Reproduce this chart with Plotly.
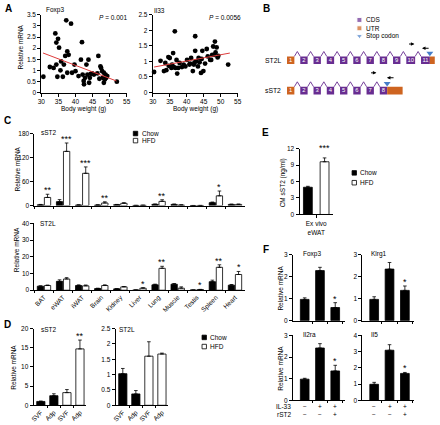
import plotly.graph_objects as go

W, H = 440, 425
FONT = "Liberation Sans, Arial, Helvetica, sans-serif"
PURPLE = "rgb(104,45,145)"
ORANGE = "rgb(206,100,32)"
BLUE = "rgb(70,125,200)"
RED = "rgb(222,60,60)"

# ---------------- data ----------------
# A: scatter (body weight vs relative mRNA)
foxp3_bw = [30.6, 32.5, 33.6, 34.1, 34.4, 34.7, 34.9, 35.2, 34.4, 35.6, 35.8, 36.3, 36.6, 37.0, 37.3, 37.6, 37.6,
            38.0, 38.7, 39.0, 39.7, 40.0, 40.9, 41.6, 41.9, 42.1, 42.4, 42.5, 42.8, 43.2, 43.5, 43.8, 44.0, 44.2,
            44.5, 44.9, 45.4, 46.4, 46.7, 47.0, 47.3, 47.5, 47.8, 48.0, 48.3, 48.3, 48.6, 48.8, 49.0, 49.3, 52.1]
foxp3_mrna = [0.71, 1.15, 1.11, 2.66, 2.25, 0.71, 2.42, 2.02, 1.26, 1.0, 1.40, 0.71, 1.26, 1.65, 3.25, 1.85, 0.89,
              1.70, 3.10, 0.89, 1.26, 0.96, 0.74, 1.48, 2.27, 0.81, 0.52, 0.37, 0.66, 1.26, 0.81, 1.48, 0.44, 0.66,
              0.84, 0.86, 0.81, 0.86, 1.65, 0.62, 1.18, 1.11, 0.96, 0.66, 0.44, 0.89, 0.59, 0.81, 0.66, 0.74, 0.49]
foxp3_fit_bw = [30.5, 52.0]
foxp3_fit_mrna = [1.78, 0.52]
foxp3_p = "0.001"

il33_bw = [30.4, 32.3, 33.3, 33.7, 34.0, 34.6, 34.7, 35.0, 35.5, 35.7, 36.0, 36.2, 36.5, 36.7, 37.0, 37.2, 37.5,
           37.9, 38.6, 39.1, 39.6, 40.1, 40.8, 41.0, 41.3, 41.8, 42.1, 42.3, 42.5, 42.5, 42.8, 43.3, 43.5, 43.8,
           44.2, 44.4, 44.6, 44.9, 45.4, 45.9, 46.2, 46.9, 47.2, 47.5, 47.8, 48.1, 48.3, 48.5, 48.8, 49.1, 49.3, 52.2]
il33_mrna = [0.66, 1.02, 0.69, 0.95, 0.72, 1.14, 0.86, 1.11, 0.79, 0.90, 1.27, 0.82, 1.97, 0.79, 1.05, 0.61, 0.79,
             0.95, 0.82, 0.90, 0.84, 1.05, 0.90, 0.93, 1.11, 0.69, 0.90, 0.97, 1.81, 1.34, 1.0, 0.84, 1.11, 0.97,
             0.63, 1.08, 1.34, 0.69, 0.93, 1.40, 1.16, 1.05, 1.05, 1.21, 1.48, 1.21, 1.64, 1.29, 1.45, 1.13, 1.18, 0.90]
il33_fit_bw = [30.4, 52.7]
il33_fit_mrna = [0.82, 1.27]
il33_p = "0.0056"

# B: gene schematic
st2l_exons = list(range(1, 12))
sst2_exons = list(range(1, 9))
st2l_primer_exons = (10, 11)
sst2_primer_exons = (7, 8)

# C: tissue panel
tissues = ["BAT", "eWAT", "iWAT", "Brain", "Kidney", "Liver", "Lung", "Muscle", "Testis", "Spleen", "Heart"]
sst2_chow = [2.0, 10.0, 1.5, 1.5, 2.5, 0.5, 3.2, 3.0, 0.3, 7.5, 3.0]
sst2_chow_err = [1.0, 5.0, 0.5, 0.5, 0.5, 0.2, 0.8, 1.0, 0.1, 1.5, 0.8]
sst2_hfd = [20.5, 136, 81, 6.6, 5.8, 0.8, 10.7, 1.5, 0.4, 24.6, 3.0]
sst2_hfd_err = [8.0, 21, 16, 3.0, 1.5, 0.3, 4.0, 0.5, 0.1, 12.0, 1.0]
sst2_stars = ["**", "***", "***", "**", "", "", "**", "", "", "*", ""]

st2l_chow = [2.4, 5.3, 2.8, 1.0, 0.8, 0.1, 3.2, 3.6, 0.1, 5.1, 3.0]
st2l_chow_err = [0.2, 0.9, 0.4, 0.2, 0.1, 0.05, 0.4, 0.4, 0.05, 0.9, 0.4]
st2l_hfd = [2.8, 6.7, 2.6, 2.8, 2.0, 1.2, 13.1, 1.2, 0.4, 13.7, 9.4]
st2l_hfd_err = [0.3, 0.8, 0.5, 0.4, 0.2, 0.3, 1.2, 0.8, 0.1, 1.5, 1.8]
st2l_stars = ["", "", "", "", "", "*", "**", "", "*", "**", "*"]

# D: SVF vs adipocytes
d_labels = ["SVF", "Adp", "SVF", "Adp"]
d_diet = ["Chow", "Chow", "HFD", "HFD"]
d_sst2 = [1.0, 2.5, 3.3, 14.7]
d_sst2_err = [0.1, 0.5, 0.8, 2.3]
d_sst2_stars = ["", "", "", "**"]
d_st2l = [1.03, 0.37, 1.6, 1.67]
d_st2l_err = [0.17, 0.11, 0.47, 0.03]

# E: ex vivo eWAT conditioned medium
e_groups = ["Chow", "HFD"]
e_sst2 = [4.96, 9.6]
e_sst2_err = [0.17, 0.7]
e_stars = ["", "***"]

# F: treatment panel
f_il33 = ["\u2212", "+", "+"]
f_rst2 = ["\u2212", "\u2212", "+"]
f_genes = ["Foxp3", "Klrg1", "Il2ra", "Il5"]
f_vals = {"Foxp3": [0.97, 2.28, 0.6], "Klrg1": [0.97, 2.35, 1.38],
          "Il2ra": [0.98, 2.42, 1.36], "Il5": [0.99, 3.09, 1.66]}
f_errs = {"Foxp3": [0.07, 0.15, 0.22], "Klrg1": [0.12, 0.3, 0.2],
          "Il2ra": [0.04, 0.2, 0.26], "Il5": [0.12, 0.34, 0.06]}
f_stars = ["", "", "*"]


# ---------------- helpers ----------------
def fx(px):
    return px / W


def fy(py):
    return 1 - py / H


def dom_x(a, b):
    return [fx(a), fx(b)]


def dom_y(top, bottom):
    return [fy(bottom), fy(top)]


def axis(**kw):
    d = dict(showline=True, linecolor="black", linewidth=1, ticks="outside", ticklen=3, tickwidth=1,
             tickcolor="black", showgrid=False, zeroline=False, fixedrange=True,
             tickfont=dict(size=6.5, color="black", family=FONT))
    d.update(kw)
    return d


def err(arr):
    return dict(type="data", array=arr, arrayminus=[0] * len(arr), symmetric=False,
                color="black", thickness=0.8, width=1.8)


traces = []
shapes = []
ann = []
layout = dict(width=W, height=H, margin=dict(l=0, r=0, t=0, b=0), paper_bgcolor="white",
              plot_bgcolor="rgba(0,0,0,0)", showlegend=False, barmode="group",
              font=dict(family=FONT, size=6.5, color="black"))


def text(px, py, s, size=6.5, xanchor="left", yanchor="middle", angle=0, bold=False):
    ann.append(dict(x=fx(px), y=fy(py), xref="paper", yref="paper", text=("<b>%s</b>" % s if bold else s),
                    showarrow=False, xanchor=xanchor, yanchor=yanchor, textangle=angle,
                    font=dict(size=size, color="black", family=FONT), borderpad=0))


def star(xr, yr, x, y, s, xshift=0, yshift=-3):
    if s:
        ann.append(dict(x=x, y=y, xref=xr, yref=yr, text=s, showarrow=False, xanchor="center",
                        yanchor="bottom", xshift=xshift, yshift=yshift,
                        font=dict(size=9, color="black", family=FONT)))


def legend_box(px, py, label, filled):
    shapes.append(dict(type="rect", xref="paper", yref="paper", x0=fx(px), x1=fx(px + 4.5),
                       y0=fy(py + 2.3), y1=fy(py - 2.3), fillcolor="black" if filled else "white",
                       line=dict(color="black", width=0.8)))
    text(px + 7.5, py, label, size=6.5)


# ---------------- A ----------------
layout["xaxis"] = axis(domain=dom_x(38, 125), range=[30, 55], dtick=5, anchor="y")
layout["yaxis"] = axis(domain=dom_y(11, 90), range=[0, 3.5], dtick=0.5, anchor="x")
layout["xaxis2"] = axis(domain=dom_x(151.5, 238), range=[30, 55], dtick=5, anchor="y2")
layout["yaxis2"] = axis(domain=dom_y(11, 90), range=[0, 2.5], dtick=0.5, anchor="x2")

traces.append(go.Scatter(x=foxp3_bw, y=foxp3_mrna, mode="markers", xaxis="x", yaxis="y",
                         marker=dict(color="black", size=4.8), cliponaxis=False))
traces.append(go.Scatter(x=foxp3_fit_bw, y=foxp3_fit_mrna, mode="lines", xaxis="x", yaxis="y",
                         line=dict(color=RED, width=1)))
traces.append(go.Scatter(x=il33_bw, y=il33_mrna, mode="markers", xaxis="x2", yaxis="y2",
                         marker=dict(color="black", size=4.8), cliponaxis=False))
traces.append(go.Scatter(x=il33_fit_bw, y=il33_fit_mrna, mode="lines", xaxis="x2", yaxis="y2",
                         line=dict(color=RED, width=1), cliponaxis=False))

text(42, 6.5, "Foxp3")
text(152, 6.5, "Il33")
text(126, 14, "<i>P</i> = " + foxp3_p, xanchor="right")
text(242, 14, "<i>P</i> = " + il33_p, xanchor="right")
text(81, 107, "Body weight (g)", xanchor="center")
text(195.5, 107, "Body weight (g)", xanchor="center")
text(16.5, 44, "Relative mRNA", xanchor="center", angle=-90)

# ---------------- B (schematic) ----------------
layout["xaxis3"] = dict(domain=dom_x(265, 440), range=[265, 440], visible=False, fixedrange=True, anchor="y3")
layout["yaxis3"] = dict(domain=dom_y(0, 110), range=[110, 0], visible=False, fixedrange=True, anchor="x3")

GAP = 6.0
HALF_H = 3.9
PEAK = 8.9


def exon_w(n):
    return 7.5 if n < 10 else 9.0


def exon_centers(exons, start=292.0):
    cs = [start]
    for a, b in zip(exons[:-1], exons[1:]):
        cs.append(cs[-1] + exon_w(a) / 2 + GAP + exon_w(b) / 2)
    return cs


rows = [("ST2L", st2l_exons, 57.2, 5.0, st2l_primer_exons, (-3.25, 3.75, 16.5), (4.75, -3.5, 12.2)),
        ("sST2", sst2_exons, 88.0, 15.75, sst2_primer_exons, (-0.7, 6.3, 18.0), (11.8, 3.5, 13.0))]
for name, exons, ry, tail, primers, fwd, rev in rows:
    cs = exon_centers(exons)
    cx, cy = [], []
    for i, (n, c) in enumerate(zip(exons, cs)):
        w = exon_w(n)
        shapes.append(dict(type="rect", xref="x3", yref="y3", x0=c - w / 2, x1=c + w / 2, layer="below",
                           y0=ry - HALF_H, y1=ry + HALF_H, fillcolor=ORANGE if n == 1 else PURPLE,
                           line=dict(width=0)))
        if i < len(exons) - 1:
            r = c + w / 2
            l = cs[i + 1] - exon_w(exons[i + 1]) / 2
            cx += [r, (r + l) / 2, l, None]
            cy += [ry - HALF_H, ry - PEAK, ry - HALF_H, None]
    last_c, last_w = cs[-1], exon_w(exons[-1])
    shapes.append(dict(type="rect", xref="x3", yref="y3", x0=last_c + last_w / 2, x1=last_c + last_w / 2 + tail,
                       y0=ry - HALF_H, y1=ry + HALF_H, fillcolor=ORANGE, line=dict(width=0), layer="below"))
    traces.append(go.Scatter(x=cx, y=cy, mode="lines", xaxis="x3", yaxis="y3",
                             line=dict(color=PURPLE, width=0.9), hoverinfo="skip"))
    traces.append(go.Scatter(x=cs, y=[ry] * len(cs), mode="text", text=[str(n) for n in exons],
                             xaxis="x3", yaxis="y3", textfont=dict(color="white", size=5.8, family=FONT)))
    traces.append(go.Scatter(x=[last_c + last_w / 2], y=[ry - 7.2], mode="markers", xaxis="x3", yaxis="y3",
                             marker=dict(symbol="triangle-down", color=BLUE, size=6)))
    fc = cs[exons.index(primers[0])]
    rc = cs[exons.index(primers[1])]
    for c, (t, h, dy) in ((fc, fwd), (rc, rev)):
        ann.append(dict(x=c + h, y=ry - dy, ax=c + t, ay=ry - dy, xref="x3", yref="y3", axref="x3",
                        ayref="y3", text="", showarrow=True, arrowhead=2, arrowsize=0.7, arrowwidth=1,
                        arrowcolor="black", standoff=0, startstandoff=0))
    ann.append(dict(x=284.5, y=ry, xref="x3", yref="y3", text=name, showarrow=False, xanchor="right",
                    yanchor="middle", font=dict(size=6.8, color="black", family=FONT)))

# legend for B
traces.append(go.Scatter(x=[362, 362, 362], y=[16.2, 24.7, 32.5], mode="markers", xaxis="x3", yaxis="y3",
                         marker=dict(symbol=["square", "square", "triangle-down"], size=[5, 5, 5.5],
                                     color=[PURPLE, ORANGE, BLUE])))
for yy, s in zip([16.2, 24.7, 32.5], ["CDS", "UTR", "Stop codon"]):
    ann.append(dict(x=367, y=yy, xref="x3", yref="y3", text=s, showarrow=False, xanchor="left",
                    yanchor="middle", font=dict(size=6.5, color="black", family=FONT)))

# ---------------- C ----------------
C_X0, C_X1 = 31, 245
cat_px = (C_X1 - C_X0) / len(tissues)
BW = 0.33
OFF_CHOW, OFF_HFD = -0.35, 0.02
hfd_shift = (OFF_HFD + BW / 2) * cat_px

layout["xaxis4"] = axis(domain=dom_x(C_X0, C_X1), type="category", categoryorder="array",
                        categoryarray=tissues, tickson="boundaries", showticklabels=False, anchor="y4",
                        ticklen=2)
layout["yaxis4"] = axis(domain=dom_y(132, 205), range=[0, 180], dtick=60, anchor="x4")
layout["xaxis5"] = axis(domain=dom_x(C_X0, C_X1), type="category", categoryorder="array",
                        categoryarray=tissues, tickson="boundaries", tickangle=-45, anchor="y5", ticklen=2)
layout["yaxis5"] = axis(domain=dom_y(223, 291), range=[0, 40], dtick=10, anchor="x5")

for xa, ya, chow, chow_e, hfd, hfd_e, stars in (
        ("x4", "y4", sst2_chow, sst2_chow_err, sst2_hfd, sst2_hfd_err, sst2_stars),
        ("x5", "y5", st2l_chow, st2l_chow_err, st2l_hfd, st2l_hfd_err, st2l_stars)):
    traces.append(go.Bar(x=tissues, y=chow, xaxis=xa, yaxis=ya, width=BW, offset=OFF_CHOW,
                         marker=dict(color="black", line=dict(color="black", width=0.8)), error_y=err(chow_e)))
    traces.append(go.Bar(x=tissues, y=hfd, xaxis=xa, yaxis=ya, width=BW, offset=OFF_HFD,
                         marker=dict(color="white", line=dict(color="black", width=0.8)), error_y=err(hfd_e)))
    for t, v, e, s in zip(tissues, hfd, hfd_e, stars):
        star(xa, ya, t, v + e, s, xshift=hfd_shift)

text(37, 131, "sST2")
text(35.5, 223, "ST2L")
text(13.5, 168, "Relative mRNA", xanchor="center", angle=-90)
text(13.5, 250, "Relative mRNA", xanchor="center", angle=-90)
legend_box(131.7, 131.7, "Chow", True)
legend_box(131.7, 138.9, "HFD", False)

# ---------------- E ----------------
layout["xaxis6"] = axis(domain=dom_x(301, 335), range=[-0.5, 1.5], tickvals=[0.5],
                        ticktext=["Ex vivo<br>eWAT"], anchor="y6")
layout["yaxis6"] = axis(domain=dom_y(147, 214), range=[0, 12], dtick=3, anchor="x6")
traces.append(go.Bar(x=[0, 1], y=e_sst2, xaxis="x6", yaxis="y6", width=0.53,
                     marker=dict(color=["black", "white"], line=dict(color="black", width=0.8)),
                     error_y=err(e_sst2_err)))
for i, (v, e, s) in enumerate(zip(e_sst2, e_sst2_err, e_stars)):
    star("x6", "y6", i, v + e, s, yshift=3)
text(284.5, 182, "CM sST2 (ng/ml)", xanchor="center", angle=-90)
legend_box(354.5, 171.7, "Chow", True)
legend_box(354.5, 181.7, "HFD", False)

# ---------------- D ----------------
D_RANGE = [-0.55, 3.5]
for k, (x0, x1, vals, errs, ymax, dt) in zip((7, 8), [(30.2, 84, d_sst2, d_sst2_err, 20, 5),
                                                      (113.7, 167.5, d_st2l, d_st2l_err, 2.5, 0.5)]):
    layout["xaxis%d" % k] = axis(domain=dom_x(x0, x1), range=D_RANGE, tickvals=[0, 1, 2, 3],
                                 ticktext=d_labels, ticklen=0, tickangle=-45, anchor="y%d" % k,
                                 minor=dict(tickmode="array", tickvals=[0.5, 1.5, 2.5], ticks="outside",
                                            ticklen=2, tickcolor="black", tickwidth=1))
    layout["yaxis%d" % k] = axis(domain=dom_y(330, 408), range=[0, ymax], dtick=dt, anchor="x%d" % k)
    traces.append(go.Bar(x=[0, 1, 2, 3], y=vals, xaxis="x%d" % k, yaxis="y%d" % k, width=0.63,
                         marker=dict(color=["black" if d == "Chow" else "white" for d in d_diet],
                                     line=dict(color="black", width=0.8)), error_y=err(errs)))
for i, (v, e, s) in enumerate(zip(d_sst2, d_sst2_err, d_sst2_stars)):
    star("x7", "y7", i, v + e, s)
text(37, 330.5, "sST2")
text(116, 330.5, "ST2L")
text(10, 369, "Relative mRNA", xanchor="center", angle=-90)
legend_box(201.7, 339, "Chow", True)
legend_box(201.7, 348.3, "HFD", False)

# ---------------- F ----------------
F_RANGE = [-0.77, 2.62]
f_boxes = {"Foxp3": (9, 294.3, 347, 255, 322, 3), "Klrg1": (10, 365, 418, 255, 322, 3),
           "Il2ra": (11, 294.3, 347, 337, 403, 3), "Il5": (12, 365, 418, 337, 403, 4)}
for g in f_genes:
    k, x0, x1, y0, y1, ymax = f_boxes[g]
    layout["xaxis%d" % k] = axis(domain=dom_x(x0, x1), range=F_RANGE, showticklabels=False, ticks="",
                                 anchor="y%d" % k,
                                 minor=dict(tickmode="array", tickvals=[0.5, 1.5, 2.5], ticks="outside",
                                            ticklen=2, tickcolor="black", tickwidth=1))
    layout["yaxis%d" % k] = axis(domain=dom_y(y0, y1), range=[0, ymax], dtick=1, anchor="x%d" % k)
    traces.append(go.Bar(x=[0, 1, 2], y=f_vals[g], xaxis="x%d" % k, yaxis="y%d" % k, width=0.57,
                         marker=dict(color="black", line=dict(color="black", width=0.8)),
                         error_y=err(f_errs[g])))
    for i, (v, e, s) in enumerate(zip(f_vals[g], f_errs[g], f_stars)):
        star("x%d" % k, "y%d" % k, i, v + e, s)
    text(x0 + 9.5 if k in (9, 11) else x0 + 7.5, y0 - 0.5, g, size=6.5)

for k in (11, 12):
    for i, (a, b) in enumerate(zip(f_il33, f_rst2)):
        ann.append(dict(x=i, y=fy(409), xref="x%d" % k, yref="paper", text=a, showarrow=False,
                        xanchor="center", yanchor="middle", font=dict(size=6.5, color="black", family=FONT)))
        ann.append(dict(x=i, y=fy(417.5), xref="x%d" % k, yref="paper", text=b, showarrow=False,
                        xanchor="center", yanchor="middle", font=dict(size=6.5, color="black", family=FONT)))
text(293, 409, "IL-33", xanchor="right")
text(293, 417.5, "rST2", xanchor="right")
text(282, 288.5, "Relative mRNA", xanchor="center", angle=-90)
text(282, 370, "Relative mRNA", xanchor="center", angle=-90)

# ---------------- panel letters ----------------
for (px, py, s) in [(4.5, 5, "A"), (267.5, 5, "B"), (4, 118.5, "C"), (4, 325.5, "D"),
                    (266.7, 130.5, "E"), (266.7, 250, "F")]:
    text(px, py, s, size=10, xanchor="center", bold=True)

layout["shapes"] = shapes
layout["annotations"] = ann
fig = go.Figure(data=traces, layout=layout)
fig.write_html("out.html", config={"displayModeBar": False, "staticPlot": True},
               post_script="document.body.style.margin='0px';document.body.style.overflow='hidden';")
